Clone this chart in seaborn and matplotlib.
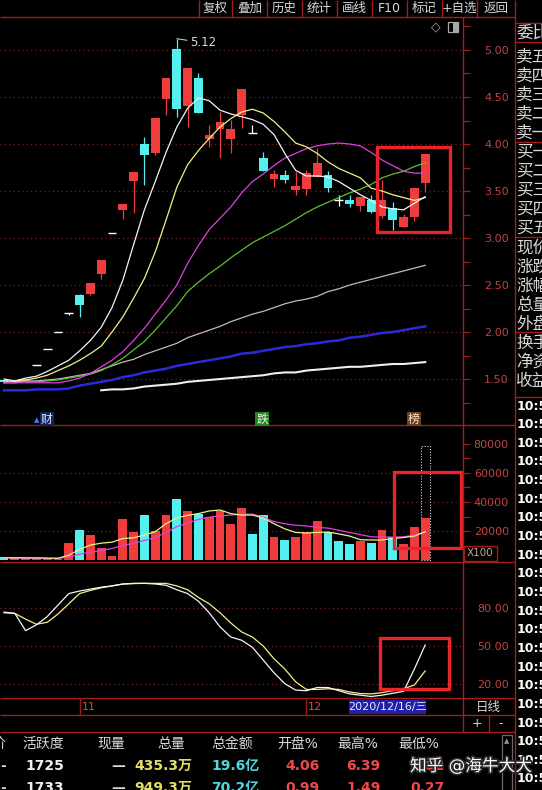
import numpy as np
import pandas as pd
import matplotlib
matplotlib.use("Agg")
import matplotlib.pyplot as plt
import matplotlib.patheffects as pe
from matplotlib.patches import Rectangle
import seaborn as sns

plt.rcParams["font.family"] = ["DejaVu Sans", "Noto Sans CJK SC"]

# daily candles (40 sessions)
opens = [1.49, 1.47, 1.48, 1.65, 1.82, 2.00, 2.20, 2.39, 2.40, 2.62,
         3.05, 3.30, 3.61, 4.00, 3.90, 4.48, 5.01, 4.40, 4.70, 4.05,
         4.16, 4.05, 4.31, 4.12, 3.85, 3.63, 3.67, 3.51, 3.52, 3.65,
         3.67, 3.40, 3.40, 3.34, 3.40, 3.23, 3.32, 3.12, 3.22, 3.59]
highs = [1.49, 1.49, 1.50, 1.65, 1.82, 2.00, 2.20, 2.40, 2.52, 2.77,
         3.05, 3.36, 3.70, 4.07, 4.28, 4.70, 5.12, 4.81, 4.76, 4.20,
         4.34, 4.26, 4.59, 4.20, 3.91, 3.72, 3.72, 3.70, 3.72, 3.96,
         3.71, 3.46, 3.46, 3.44, 3.46, 3.62, 3.38, 3.26, 3.53, 3.89]
lows = [1.46, 1.46, 1.47, 1.65, 1.82, 2.00, 2.18, 2.16, 2.39, 2.56,
        3.05, 3.20, 3.27, 3.56, 3.88, 4.31, 4.29, 4.18, 4.33, 3.97,
        3.85, 3.90, 4.17, 4.12, 3.71, 3.54, 3.59, 3.46, 3.46, 3.65,
        3.49, 3.34, 3.33, 3.29, 3.27, 3.21, 3.09, 3.12, 3.18, 3.49]
closes = [1.47, 1.48, 1.50, 1.65, 1.82, 2.00, 2.20, 2.29, 2.52, 2.77,
          3.05, 3.36, 3.70, 3.88, 4.28, 4.70, 4.37, 4.81, 4.33, 4.10,
          4.23, 4.16, 4.59, 4.12, 3.71, 3.68, 3.62, 3.55, 3.69, 3.80,
          3.53, 3.40, 3.36, 3.44, 3.28, 3.40, 3.19, 3.22, 3.53, 3.89]

# moving averages on the price panel
ma5 = [1.50, 1.48, 1.51, 1.53, 1.58, 1.64, 1.70, 1.80, 1.91, 2.05,
       2.26, 2.55, 2.93, 3.30, 3.60, 3.91, 4.18, 4.38, 4.49, 4.46,
       4.36, 4.32, 4.29, 4.26, 4.21, 4.10, 3.90, 3.72, 3.66, 3.66,
       3.65, 3.60, 3.53, 3.46, 3.40, 3.33, 3.31, 3.30, 3.37, 3.44]
ma10 = [1.48, 1.48, 1.49, 1.51, 1.54, 1.59, 1.64, 1.70, 1.77, 1.85,
        2.00, 2.16, 2.36, 2.57, 2.85, 3.19, 3.54, 3.78, 3.93, 4.06,
        4.18, 4.27, 4.34, 4.37, 4.33, 4.24, 4.13, 4.01, 3.97, 3.90,
        3.81, 3.74, 3.69, 3.64, 3.53, 3.50, 3.46, 3.43, 3.40, 3.43]
ma20 = [1.46, 1.46, 1.46, 1.46, 1.46, 1.46, 1.48, 1.51, 1.56, 1.63,
        1.70, 1.79, 1.91, 2.04, 2.19, 2.34, 2.50, 2.73, 2.92, 3.09,
        3.21, 3.33, 3.48, 3.60, 3.68, 3.77, 3.85, 3.90, 3.95, 3.98,
        4.00, 4.01, 4.00, 3.98, 3.91, 3.83, 3.77, 3.71, 3.69, 3.69]
ma30 = [1.46, 1.46, 1.47, 1.47, 1.48, 1.49, 1.51, 1.53, 1.55, 1.59,
        1.65, 1.72, 1.81, 1.90, 2.02, 2.15, 2.28, 2.43, 2.53, 2.62,
        2.70, 2.79, 2.87, 2.95, 3.01, 3.07, 3.13, 3.20, 3.27, 3.33,
        3.38, 3.43, 3.48, 3.52, 3.57, 3.64, 3.68, 3.71, 3.76, 3.80]
ma60 = [1.47, 1.47, 1.48, 1.48, 1.49, 1.50, 1.52, 1.54, 1.56, 1.60,
        1.64, 1.68, 1.71, 1.76, 1.80, 1.84, 1.88, 1.94, 1.98, 2.02,
        2.06, 2.11, 2.15, 2.19, 2.22, 2.26, 2.30, 2.33, 2.35, 2.38,
        2.43, 2.46, 2.50, 2.53, 2.56, 2.59, 2.62, 2.65, 2.68, 2.71]
ma120 = [1.38, 1.38, 1.38, 1.39, 1.39, 1.39, 1.40, 1.43, 1.45, 1.47,
         1.49, 1.52, 1.54, 1.57, 1.59, 1.61, 1.64, 1.66, 1.68, 1.70,
         1.72, 1.74, 1.77, 1.78, 1.80, 1.82, 1.84, 1.85, 1.87, 1.88,
         1.90, 1.91, 1.94, 1.95, 1.97, 1.99, 2.00, 2.02, 2.04, 2.06]
ma250 = [np.nan, np.nan, np.nan, np.nan, np.nan, np.nan, np.nan, np.nan, np.nan, 1.38,
         1.39, 1.39, 1.40, 1.42, 1.43, 1.44, 1.45, 1.47, 1.48, 1.49,
         1.50, 1.51, 1.52, 1.53, 1.54, 1.56, 1.57, 1.57, 1.59, 1.60,
         1.61, 1.62, 1.63, 1.63, 1.64, 1.65, 1.66, 1.66, 1.67, 1.68]

# volume (lots) and its averages
volumes = [1800, 1500, 1500, 1200, 600, 1000, 12000, 21000, 17000, 8000,
           3000, 28000, 19000, 31000, 20000, 31000, 42000, 34000, 32000, 30000,
           34000, 25000, 36000, 18000, 31000, 16000, 14000, 16000, 19000, 27000,
           19000, 13000, 11000, 13000, 12000, 21000, 16000, 11000, 23000, 29000]
vol_forecast_last = 78600
vol_ma5 = [1500, 1500, 1500, 1500, 1300, 1200, 3300, 7300, 10300, 11600,
           12300, 14800, 15300, 17200, 19500, 25000, 29000, 30800, 32000, 33800,
           34500, 32000, 31000, 31000, 29000, 25000, 21500, 19000, 18600, 19000,
           19300, 18000, 16500, 14000, 13800, 13800, 14800, 15500, 16500, 19500]
vol_ma10 = [1500, 1400, 1300, 1200, 1100, 1100, 2000, 4000, 5500, 6500,
            8000, 10000, 11500, 13500, 15500, 19000, 23000, 25500, 28000, 29500,
            30500, 31000, 31500, 31700, 29500, 26500, 25000, 24000, 23500, 22500,
            22000, 20500, 19000, 17500, 16000, 15800, 15800, 16000, 17200, 19300]

# oscillator panel
k_line = [76.5, 75.5, 62, 66.5, 73, 82, 91, 93, 94.5, 96,
          97, 98.5, 99, 99, 98.5, 97.5, 94, 91, 85, 76,
          65, 57, 54.5, 49, 39, 29, 20.5, 15.5, 15, 17.5,
          17.5, 15, 12.5, 11.5, 10.5, 11.5, 13, 14.5, 32, 50.8]
d_line = [76, 75.5, 71, 67, 68.5, 75, 83, 91, 93.5, 95.5,
          97, 98.4, 98.8, 99, 99, 99, 97, 94, 88, 83,
          76, 68, 61, 57, 50, 40, 32, 22, 16, 16,
          16.5, 16, 14, 12.8, 12.5, 13.5, 15, 16.5, 19.5, 30.5]

price_ticks = [1.5, 2.0, 2.5, 3.0, 3.5, 4.0, 4.5, 5.0]
vol_ticks = [20000, 40000, 60000, 80000]
kdj_ticks = [20, 50, 80]

menu_items = ["复权", "叠加", "历史", "统计", "画线", "F10", "标记", "+自选", "返回"]
side_labels = ["委比", "卖五", "卖四", "卖三", "卖二", "卖一", "买一", "买二", "买三", "买四",
               "买五", "现价", "涨跌", "涨幅", "总量", "外盘", "换手", "净资", "收益"]
table_header = ["价", "活跃度", "现量", "总量", "总金额", "开盘%", "最高%", "最低%"]
table_row1 = ["-", "1725", "—", "435.3万", "19.6亿", "4.06", "6.39", "4.02"]
table_row2 = ["-", "1733", "—", "949.3万", "70.2亿", "0.99", "1.49", "0.27"]

W, H = 542, 790
RED = "#f03c3c"
CYAN = "#54f0f0"
FRAME = "#a41c1c"
GRID = "#7a1e1e"
TICK_TXT = "#c04444"
TXT = "#d8d8d8"

fig = plt.figure(figsize=(W / 100, H / 100), dpi=100, facecolor="black")


def px_axes(x0, y0, x1, y1):
    ax = fig.add_axes([x0 / W, 1 - y1 / H, (x1 - x0) / W, (y1 - y0) / H])
    ax.set_facecolor("black")
    for s in ax.spines.values():
        s.set_visible(False)
    return ax


def right_axis(ax, ticks, labels, minor=None):
    ax.set_yticks(ticks)
    ax.set_yticklabels(labels)
    if minor is not None:
        ax.set_yticks(minor, minor=True)
    ax.yaxis.tick_right()
    ax.tick_params(axis="y", which="both", color=FRAME, labelcolor=TICK_TXT,
                   labelsize=8, length=5, width=0.9, pad=28)
    for lab in ax.get_yticklabels():
        lab.set_horizontalalignment("right")
    ax.set_xticks([])
    ax.set_xlabel("")
    ax.set_ylabel("")


n = len(closes)
idx = np.arange(n)
o, hi, lo, c = (np.array(a) for a in (opens, highs, lows, closes))
prev = np.r_[c[0], c[:-1]]
direction = np.where(c > o, "up", np.where(c < o, "down", np.where(c >= prev, "up", "down")))
XLIM = (-0.37, 42.5)

# ---- price panel ----
ax_p = px_axes(0, 17, 463, 425)
flat = c == o
body_col = np.where(c > o, RED, CYAN)
wick_col = np.where(flat, "white", body_col)
ax_p.vlines(idx, lo, hi, colors=wick_col, lw=0.9, zorder=2)
nf = ~flat
ax_p.bar(idx[nf], np.abs(c - o)[nf], bottom=np.minimum(o, c)[nf], width=0.82,
         color=body_col[nf], lw=0, zorder=2.5)
ax_p.hlines(c[flat], idx[flat] - 0.4, idx[flat] + 0.4, colors="white", lw=1.0, zorder=2.5)

ma_specs = [(ma250, "#eeeeee", 1.5), (ma120, "#2a2ad8", 1.8), (ma60, "#bcbcbc", 0.9),
            (ma30, "#5cc030", 0.9), (ma20, "#e040e0", 0.9), (ma10, "#f2f088", 0.9),
            (ma5, "#f4f4f4", 0.9)]
for vals, col, lw in ma_specs:
    sns.lineplot(x=idx, y=vals, ax=ax_p, color=col, linewidth=lw,
                 estimator=None, sort=False, legend=False, zorder=3)

for t in price_ticks:
    ax_p.axhline(t, color=GRID, lw=0.9, ls=(0, (1, 2.5)), zorder=1)
top = int(np.argmax(highs))
ax_p.annotate(f"{highs[top]:.2f}", xy=(idx[top], highs[top]), xytext=(13, -4),
              textcoords="offset pixels", ha="left", va="center", fontsize=8.5,
              color=TXT, arrowprops=dict(arrowstyle="-", color=TXT, lw=0.7,
                                         shrinkA=0, shrinkB=0))
ax_p.set_xlim(*XLIM)
ax_p.set_ylim(1.011, 5.351)
right_axis(ax_p, price_ticks, [f"{t:.2f}" for t in price_ticks],
           minor=np.arange(1.25, 5.3, 0.25))

# ---- volume panel ----
ax_v = px_axes(0, 425, 463, 562)
vol_df = pd.DataFrame({"idx": idx, "vol": volumes, "dir": direction})
ax_v.bar(idx[-1], vol_forecast_last, width=0.8, fill=False, edgecolor="#d8d8d8",
         ls=(0, (1, 1.5)), lw=0.8, zorder=1.5)
sns.barplot(data=vol_df, x="idx", y="vol", hue="dir", palette={"up": RED, "down": CYAN},
            native_scale=True, dodge=False, width=0.8, errorbar=None, legend=False,
            saturation=1, linewidth=0, ax=ax_v, zorder=2)
sns.lineplot(x=idx, y=vol_ma10, ax=ax_v, color="#e040e0", linewidth=0.9,
             estimator=None, sort=False, legend=False, zorder=3)
sns.lineplot(x=idx, y=vol_ma5, ax=ax_v, color="#f2f088", linewidth=0.9,
             estimator=None, sort=False, legend=False, zorder=3)
for t in vol_ticks[:-1]:
    ax_v.axhline(t, color=GRID, lw=0.9, ls=(0, (1, 2.5)), zorder=1)
ax_v.set_xlim(*XLIM)
ax_v.set_ylim(-1379, 93103)
right_axis(ax_v, vol_ticks, [str(t) for t in vol_ticks],
           minor=np.arange(30000, 80001, 10000))

# ---- oscillator panel ----
ax_k = px_axes(0, 562, 463, 698)
sns.lineplot(x=idx, y=d_line, ax=ax_k, color="#f2f088", linewidth=0.9,
             estimator=None, sort=False, legend=False, zorder=3)
sns.lineplot(x=idx, y=k_line, ax=ax_k, color="#f4f4f4", linewidth=0.9,
             estimator=None, sort=False, legend=False, zorder=3)
for t in kdj_ticks:
    ax_k.axhline(t, color=GRID, lw=0.9, ls=(0, (1, 2.5)), zorder=1)
ax_k.set_xlim(*XLIM)
ax_k.set_ylim(9.3, 115.7)
right_axis(ax_k, kdj_ticks, [f"{t:.2f}" for t in kdj_ticks])
ax_k.tick_params(axis="y", length=0, pad=33)

# ---- overlay: frame, menu, side column, table ----
ov = fig.add_axes([0, 0, 1, 1], zorder=10)
ov.set_xlim(0, W)
ov.set_ylim(H, 0)
ov.axis("off")
ov.patch.set_alpha(0)


def hline(y, x0, x1, col=FRAME, lw=1.0):
    ov.plot([x0, x1], [y, y], color=col, lw=lw, solid_capstyle="butt")


def vline(x, y0, y1, col=FRAME, lw=1.0):
    ov.plot([x, x], [y0, y1], color=col, lw=lw, solid_capstyle="butt")


for y in (17, 425, 562, 698, 715, 732):
    hline(y, 0, 515)
vline(463, 17, 732)
vline(515, 0, 790)
vline(489, 715, 732)

menu_edges = [199, 232, 267, 302, 337, 372, 407, 442, 477, 515]
for i, item in enumerate(menu_items):
    vline(menu_edges[i], 0, 17)
    ov.text((menu_edges[i] + menu_edges[i + 1]) / 2, 8.5, item, ha="center",
            va="center", fontsize=9, color=TXT)

ov.text(436, 27, "◇", ha="center", va="center", fontsize=9, color="#a8a8a8")
ov.add_patch(Rectangle((448, 22), 10, 10, fill=False, ec="#a8a8a8", lw=0.9))
ov.add_patch(Rectangle((453, 22), 5, 10, fc="#a8a8a8", ec="none"))

side_y = [33, 57, 76, 95, 114, 133, 152, 171, 190, 209, 228, 248, 267, 286, 305, 324, 343, 362, 381]
for lab, y in zip(side_labels, side_y):
    ov.text(516, y, lab, ha="left", va="center", fontsize=12, color=TXT)
for y in (23, 42, 142, 237, 332, 397):
    hline(y, 515, 542)
for y in np.arange(406, 792, 18.65):
    ov.text(517, y, "10:5", ha="left", va="center", fontsize=9, color="white",
            fontweight="bold")

# event tags under the candles
ov.text(36.5, 420, "▲", ha="center", va="center", fontsize=5, color="#4a78ff")
ov.text(41, 419, "财", ha="left", va="center", fontsize=8.5, color="#dfeaff",
        bbox=dict(fc="#14245e", ec="none", pad=0.6))
ov.text(262, 419, "跌", ha="center", va="center", fontsize=8.5, color="#f0f0f0",
        bbox=dict(fc="#1e8a1e", ec="none", pad=0.6))
ov.text(414, 419, "榜", ha="center", va="center", fontsize=8.5, color="#ffe2c4",
        bbox=dict(fc="#6a4222", ec="none", pad=0.6))

ov.add_patch(Rectangle((464, 546), 33, 15, fill=False, ec=FRAME, lw=1))
ov.text(480.5, 553.5, "X100", ha="center", va="center", fontsize=7.5, color="#c8a0a0")

# date row
for x, lab in ((80, "11"), (306, "12")):
    vline(x, 698, 715)
    ov.text(x + 2, 707, lab, ha="left", va="center", fontsize=8, color="#c85050")
ov.add_patch(Rectangle((349, 700), 77, 14, fc="#2020a8", ec="none"))
ov.text(387.5, 707, "2020/12/16/三", ha="center", va="center", fontsize=8, color="#e8e8ff")
ov.text(488, 707, "日线", ha="center", va="center", fontsize=9, color=TXT)
ov.text(477, 723.5, "+", ha="center", va="center", fontsize=9, color=TXT)
ov.text(501, 723.5, "-", ha="center", va="center", fontsize=9, color=TXT)

# quote table at the bottom
head_x = [5, 22, 97, 157, 211, 277, 337, 398]
for i, (lab, x) in enumerate(zip(table_header, head_x)):
    ov.text(x, 744, lab, ha="right" if i == 0 else "left", va="center",
            fontsize=10, color=TXT)
val_x = [3, 64, 125, 134, 211, 285, 346, 410]
val_ha = ["center", "right", "right", "left", "left", "left", "left", "left"]
val_col = [TXT, "#f0f0f0", TXT, "#e0e060", "#50d8e0", "#f04848", "#f04848", "#f04848"]
for row, y in ((table_row1, 766), (table_row2, 788)):
    for v, x, ha, col in zip(row, val_x, val_ha, val_col):
        ov.text(x, y, v, ha=ha, va="center", fontsize=10, color=col, fontweight="bold")

ov.add_patch(Rectangle((502, 735), 10, 60, fill=False, ec="#6a6a6a", lw=0.9))
ov.text(507, 741, "▲", ha="center", va="center", fontsize=5, color="#909090")

# red highlight boxes
BOX = "#e8262a"
for x0, y0, x1, y1 in ((377, 147, 450, 232), (394, 472, 461, 548), (380, 638, 449, 689)):
    ov.add_patch(Rectangle((x0, y0), x1 - x0, y1 - y0, fill=False, ec=BOX, lw=2.4))

ov.text(410, 766, "知乎 @海牛大大", ha="left", va="center", fontsize=12, color="white",
        path_effects=[pe.withStroke(linewidth=2.5, foreground="#2a2a2a")])

fig.savefig("out.png", dpi=100, facecolor="black")
